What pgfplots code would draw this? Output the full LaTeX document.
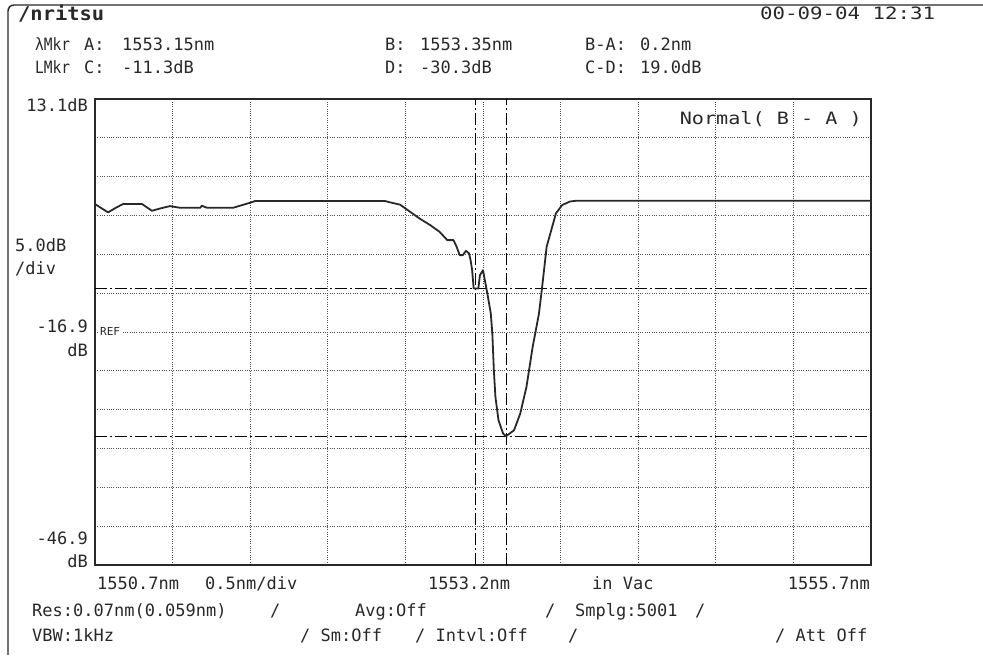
\documentclass[border=0pt]{standalone}
\usepackage{pgfplots}
\pgfplotsset{compat=1.18}
\usepackage{graphicx}
\usepackage{fontspec}
\setmainfont{DejaVu Sans Mono}
\newcommand{\osa}{\fontsize{17}{17}\selectfont}
% stretch a text to a given width, keeping its height
\newcommand{\tw}[2]{\resizebox{#1pt}{\height}{#2}}
\definecolor{ink}{RGB}{40,40,40}
\definecolor{gridc}{RGB}{80,80,80}

% trace, x = wavelength - 1550 nm, y = level in dB
\pgfplotstableread{
x y
0.700 -0.43
0.784 -1.50
0.835 -0.90
0.880 -0.43
1.003 -0.43
1.067 -1.29
1.119 -1.00
1.183 -0.69
1.248 -0.91
1.377 -0.91
1.389 -0.65
1.422 -0.91
1.589 -0.91
1.699 -0.26
1.731 -0.04
2.569 -0.04
2.620 -0.30
2.665 -0.50
2.730 -1.42
2.790 -2.27
2.860 -3.14
2.920 -4.00
2.970 -5.07
3.010 -5.07
3.030 -5.93
3.050 -7.00
3.070 -7.00
3.090 -6.45
3.110 -6.78
3.120 -7.65
3.130 -8.94
3.140 -11.30
3.170 -11.30
3.180 -9.60
3.200 -8.94
3.220 -11.10
3.230 -12.16
3.250 -14.48
3.260 -17.05
3.270 -21.82
3.280 -25.26
3.300 -28.27
3.330 -30.00
3.350 -30.30
3.400 -29.55
3.440 -27.40
3.480 -23.97
3.520 -18.82
3.560 -14.60
3.580 -11.30
3.610 -5.93
3.640 -3.78
3.670 -1.63
3.710 -0.56
3.760 -0.10
3.800 0.00
5.700 0.00
}\trace

\begin{document}
\begin{tikzpicture}[x=1pt,y=1pt,font=\osa,text=ink,
  every node/.style={inner sep=0pt}]
\useasboundingbox (0,0) rectangle (983,658);
% frame of the screen
\draw[ink,line width=1.4pt,rounded corners=6pt] (8,3) -- (8,653) -- (983,653);

\begin{axis}[
  at={(95pt,93pt)}, anchor=south west,
  width=776pt, height=466pt, scale only axis,
  xmin=0.7, xmax=5.7, ymin=-46.9, ymax=13.1,
  xtick={1.2,1.7,...,5.3}, ytick={-41.9,-36.9,...,8.2},
  xticklabels={}, yticklabels={},
  major tick length=0pt,
  grid=major,
  major grid style={gridc, line width=0.9pt, dash pattern=on 1pt off 1.3pt},
  axis line style={ink, line width=1.6pt},
  clip=false,
]
% marker lines A, B (wavelength) and C, D (level)
\addplot[black, line width=1pt, dash pattern=on 12pt off 3pt on 2pt off 3pt]
  coordinates {(3.15,-46.9) (3.15,13.1)};
\addplot[black, line width=1pt, dash pattern=on 12pt off 3pt on 2pt off 3pt]
  coordinates {(3.35,-46.9) (3.35,13.1)};
\addplot[black, line width=1pt, dash pattern=on 12pt off 3pt on 2pt off 3pt]
  coordinates {(0.7,-11.3) (5.7,-11.3)};
\addplot[black, line width=1pt, dash pattern=on 12pt off 3pt on 2pt off 3pt]
  coordinates {(0.7,-30.3) (5.7,-30.3)};
\addplot[ink, line width=1.8pt, line join=round] table[x=x,y=y] {\trace};
\end{axis}

% header
\node[anchor=base west,font=\fontsize{19}{19}\selectfont\bfseries] at (18,637) {\tw{86}{/nritsu}};
\node[anchor=base west] at (760,638) {\tw{175}{00-09-04 12:31}};
\node[anchor=base west] at (35,607) {\tw{35}{λMkr}};
\node[anchor=base west] at (84,607) {A:};
\node[anchor=base west] at (122,607) {1553.15nm};
\node[anchor=base west] at (385,607) {B:};
\node[anchor=base west] at (420,607) {1553.35nm};
\node[anchor=base west] at (585,607) {B-A:};
\node[anchor=base west] at (640,607) {0.2nm};
\node[anchor=base west] at (35,584) {\tw{35}{LMkr}};
\node[anchor=base west] at (84,584) {C:};
\node[anchor=base west] at (122,584) {-11.3dB};
\node[anchor=base west] at (385,584) {D:};
\node[anchor=base west] at (420,584) {-30.3dB};
\node[anchor=base west] at (585,584) {C-D:};
\node[anchor=base west] at (640,584) {19.0dB};

% level scale
\node[anchor=base east] at (88,546) {13.1dB};
\node[anchor=base west] at (15,406) {5.0dB};
\node[anchor=base west] at (15,383) {/div};
\node[anchor=base east] at (88,325) {-16.9};
\node[anchor=base east] at (88,301) {dB};
\node[anchor=base east] at (88,113) {-46.9};
\node[anchor=base east] at (88,90) {dB};
\node[anchor=west,font=\fontsize{11}{11}\selectfont,fill=white,inner sep=1pt] at (99,327) {REF};
\node[anchor=base east] at (862,533) {\tw{182}{Normal( B - A )}};

% wavelength scale
\node[anchor=base west] at (97,68) {1550.7nm};
\node[anchor=base west] at (205,68) {0.5nm/div};
\node[anchor=base west] at (428,68) {1553.2nm};
\node[anchor=base west] at (592,68) {in Vac};
\node[anchor=base east] at (870,68) {1555.7nm};

% settings
\node[anchor=base west] at (32,41) {Res:0.07nm(0.059nm)};
\node[anchor=base west] at (270,41) {/};
\node[anchor=base west] at (355,41) {Avg:Off};
\node[anchor=base west] at (545,41) {/};
\node[anchor=base west] at (575,41) {Smplg:5001};
\node[anchor=base west] at (695,41) {/};
\node[anchor=base west] at (32,16) {VBW:1kHz};
\node[anchor=base west] at (300,16) {/ Sm:Off};
\node[anchor=base west] at (415,16) {/ Intvl:Off};
\node[anchor=base west] at (568,16) {/};
\node[anchor=base west] at (775,16) {/ Att Off};
\end{tikzpicture}
\end{document}
